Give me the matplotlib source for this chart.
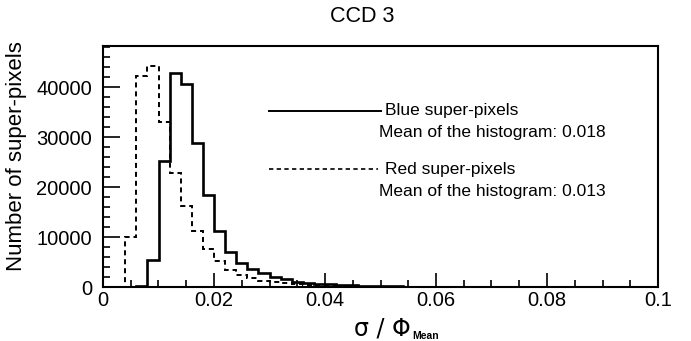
import numpy as np
import matplotlib
matplotlib.use("Agg")
import matplotlib.pyplot as plt
from matplotlib.ticker import MultipleLocator, FuncFormatter

plt.rcParams["font.family"] = ["Liberation Sans", "DejaVu Sans"]

# Histogram binning: 50 bins of width 0.002 between 0 and 0.1
bin_edges = np.linspace(0.0, 0.1, 51)

# Blue super-pixels (solid)
blue_counts = [
    0, 0, 0, 200, 5500, 25200, 42900, 40700, 28800, 18500,
    11200, 7000, 4900, 3700, 2800, 2100, 1600, 1100, 900, 700,
    560, 460, 380, 320, 260, 220, 180, 150, 130, 110,
    95, 80, 70, 60, 50, 45, 40, 35, 30, 26,
    22, 19, 16, 14, 12, 10, 8, 7, 6, 5,
]

# Red super-pixels (dashed)
red_counts = [
    0, 0, 10100, 42300, 44300, 33100, 22900, 16300, 11200, 7700,
    5300, 3500, 2500, 1800, 1300, 1100, 800, 600, 450, 350,
    280, 220, 180, 140, 110, 90, 75, 60, 50, 42,
    35, 30, 25, 21, 18, 15, 13, 11, 9, 8,
    7, 6, 5, 4, 4, 3, 3, 2, 2, 2,
]

blue_label = "Blue super-pixels"
red_label = "Red super-pixels"
blue_mean = 0.018
red_mean = 0.013

fig = plt.figure(figsize=(6.91, 3.41), dpi=100)
ax = fig.add_axes([103 / 691, 1 - 287.3 / 341, (658 - 103) / 691, (287.3 - 46) / 341])

ax.stairs(blue_counts, bin_edges, color="black", lw=1.9)
ax.stairs(red_counts, bin_edges, color="black", lw=1.4, linestyle=(0, (2.6, 2.0)))

ax.set_xlim(0, 0.1)
ax.set_ylim(0, 48200)

for s in ax.spines.values():
    s.set_linewidth(1.5)

ax.xaxis.set_major_locator(MultipleLocator(0.02))
ax.xaxis.set_minor_locator(MultipleLocator(0.005))
ax.yaxis.set_major_locator(MultipleLocator(10000))
ax.yaxis.set_minor_locator(MultipleLocator(2000))
ax.xaxis.set_major_formatter(FuncFormatter(lambda v, p: "0" if v == 0 else f"{v:g}"))
ax.yaxis.set_major_formatter(FuncFormatter(lambda v, p: f"{int(round(v))}"))
ax.tick_params(which="both", direction="in", top=False, right=False, width=1.2,
               labelsize=14.5)
ax.tick_params(axis="y", which="major", length=12, pad=8)
ax.tick_params(axis="y", which="minor", length=5)
ax.tick_params(axis="x", which="major", length=10, pad=3)
ax.tick_params(axis="x", which="minor", length=5)

fig.text(17 / 691, 1 - 156 / 341, "Number of super-pixels", rotation=90,
         ha="center", va="center", fontsize=16)

# x-axis title: sigma / Phi with a small bold "Mean" subscript
fig.text(411 / 691, 1 - 336 / 341, "σ / Φ", ha="right", va="baseline",
         fontsize=17, family=["DejaVu Sans"])
fig.text(412 / 691, 1 - 339 / 341, "Mean", ha="left", va="baseline",
         fontsize=7.5, fontweight="bold")

fig.text(362 / 691, 1 - 16 / 341, "CCD 3", ha="center", va="center", fontsize=15.5)

# Legend block
ax.plot([0.0299, 0.0500], [35300, 35300], color="black", lw=1.4, clip_on=False)
ax.plot([0.0299, 0.0496], [23600, 23600], color="black", lw=1.2,
        linestyle=(0, (2.6, 2.0)), clip_on=False)
ax.text(0.0508, 35300, blue_label, ha="left", va="center", fontsize=12.5)
ax.text(0.0498, 31000, f"Mean of the histogram: {blue_mean:.3f}", ha="left",
        va="center", fontsize=12.5)
ax.text(0.0508, 23600, red_label, ha="left", va="center", fontsize=12.5)
ax.text(0.0498, 19100, f"Mean of the histogram: {red_mean:.3f}", ha="left",
        va="center", fontsize=12.5)

fig.savefig("out.png", dpi=100)
